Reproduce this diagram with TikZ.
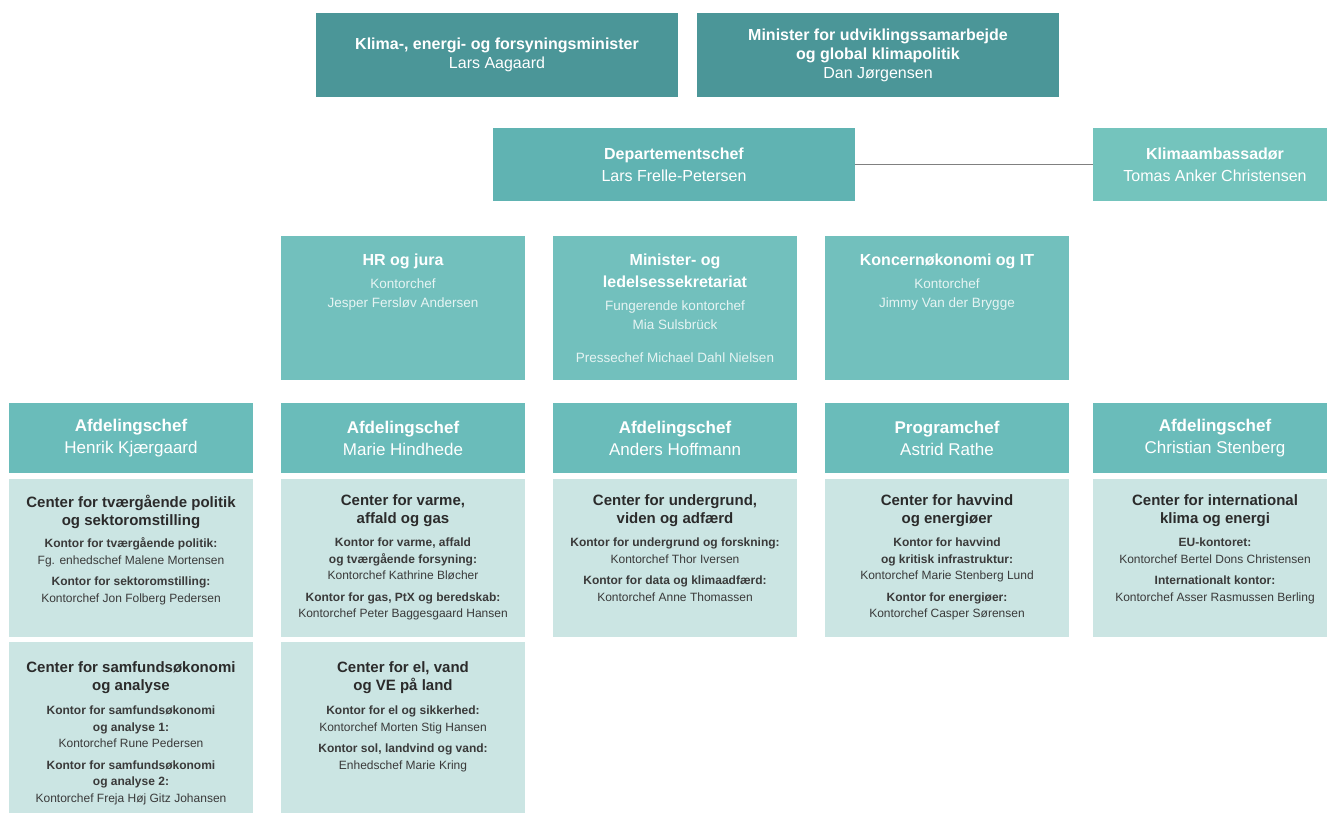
\documentclass[tikz,border=0pt]{standalone}
\usepackage{fontspec}
\setmainfont{Liberation Sans}
\definecolor{cTop}{HTML}{4B9698}
\definecolor{cDept}{HTML}{60B3B2}
\definecolor{cAmb}{HTML}{74C4BD}
\definecolor{cMid}{HTML}{72C0BD}
\definecolor{cAfd}{HTML}{6ABCBA}
\definecolor{cCtr}{HTML}{CBE5E3}
\definecolor{cTxt}{HTML}{2B2B2B}
\definecolor{cBody}{HTML}{3A3A3A}
\definecolor{cSub}{HTML}{E6F4F3}
\definecolor{cLine}{HTML}{808080}
\begin{document}
\begin{tikzpicture}[x=1pt,y=-1pt,
  every node/.style={inner sep=0pt, outer sep=0pt},
  topbox/.style={anchor=north west, fill=cTop, minimum width=362pt, minimum height=84pt, text=white, align=center, font=\fontsize{16}{19}\selectfont},
  deptbox/.style={anchor=north west, fill=cDept, minimum width=362pt, minimum height=73pt, text=white, align=center, font=\fontsize{16}{22}\selectfont},
  ambbox/.style={anchor=north west, fill=cAmb, minimum width=244pt, minimum height=73pt, text=white, align=center, font=\fontsize{16}{22}\selectfont},
  midbox/.style={anchor=north west, fill=cMid, minimum width=244pt, minimum height=144pt},
  afdbox/.style={anchor=north west, fill=cAfd, minimum width=244pt, minimum height=70pt, text=white, align=center, font=\fontsize{17}{22}\selectfont},
  ctrbox/.style={anchor=north west, fill=cCtr, minimum width=244pt, minimum height=#1},
  midhead/.style={anchor=north, text=white, align=center, font=\bfseries\fontsize{16}{22}\selectfont},
  midsub/.style={anchor=north, text=cSub, align=center, font=\fontsize{13.5}{18.5}\selectfont},
  ctrhead/.style={anchor=north, text=cTxt, align=center, font=\bfseries\fontsize{15}{18}\selectfont},
  ctrbody/.style={anchor=north, text=cBody, align=center, font=\fontsize{12}{16.5}\selectfont},
  link/.style={draw=cLine, line width=1.2pt}
]
\useasboundingbox (0,0) rectangle (1327,812);

% top row
\node[topbox] (min1) at (316,13) {\textbf{Klima-, energi- og forsyningsminister}\\Lars Aagaard};
\node[topbox] (min2) at (697,13) {\textbf{Minister for udviklingssamarbejde}\\\textbf{og global klimapolitik}\\Dan Jørgensen};

% departementschef
\node[deptbox] (dept) at (493,128) {\textbf{Departementschef}\\Lars Frelle-Petersen};
\node[ambbox] (amb) at (1093,128) {\textbf{Klimaambassadør}\\Tomas Anker Christensen};
\draw[link] (dept.east) -- (amb.west);

% middle row
\node[midbox] (hr) at (281,236) {};
\node[midbox] (sek) at (553,236) {};
\node[midbox] (kon) at (825,236) {};
\node[midhead] (hrh) at ([yshift=-18pt]hr.north) {HR og jura};
\node[midsub] (hrs) at ([yshift=-43pt]hr.north) {Kontorchef\\Jesper Fersløv Andersen};
\node[midhead] (sekh) at ([yshift=-18pt]sek.north) {Minister- og\\ledelsessekretariat};
\node[midsub] (seks) at ([yshift=-65pt]sek.north) {Fungerende kontorchef\\Mia Sulsbrück\\[15pt]Pressechef Michael Dahl Nielsen};
\node[midhead] (konh) at ([yshift=-18pt]kon.north) {Koncernøkonomi og IT};
\node[midsub] (kons) at ([yshift=-43pt]kon.north) {Kontorchef\\Jimmy Van der Brygge};

% afdelingschef row
\node[afdbox] (a1) at (9,403) {\textbf{Afdelingschef}\\Henrik Kjærgaard};
\node[afdbox] (a2) at (281,403) {\textbf{Afdelingschef}\\Marie Hindhede};
\node[afdbox] (a3) at (553,403) {\textbf{Afdelingschef}\\Anders Hoffmann};
\node[afdbox] (a4) at (825,403) {\textbf{Programchef}\\Astrid Rathe};
\node[afdbox] (a5) at (1093,403) {\textbf{Afdelingschef}\\Christian Stenberg};

% center boxes row 1
\node[ctrbox=158pt] (c1) at (9,479) {};
\node[ctrbox=158pt] (c2) at (281,479) {};
\node[ctrbox=158pt] (c3) at (553,479) {};
\node[ctrbox=158pt] (c4) at (825,479) {};
\node[ctrbox=158pt] (c5) at (1093,479) {};
% center boxes row 2
\node[ctrbox=190pt] (d1) at (9,642) {};
\node[ctrbox=190pt] (d2) at (281,642) {};

\node[ctrhead] (c1h) at ([yshift=-16pt]c1.north) {Center for tværgående politik\\og sektoromstilling};
\node[ctrbody] (c1b) at ([yshift=-59pt]c1.north) {\textbf{Kontor for tværgående politik:}\\Fg. enhedschef Malene Mortensen\\[5pt]\textbf{Kontor for sektoromstilling:}\\Kontorchef Jon Folberg Pedersen};

\node[ctrhead] (c2h) at ([yshift=-16pt]c2.north) {Center for varme,\\affald og gas};
\node[ctrbody] (c2b) at ([yshift=-59pt]c2.north) {\textbf{Kontor for varme, affald}\\\textbf{og tværgående forsyning:}\\Kontorchef Kathrine Bløcher\\[5pt]\textbf{Kontor for gas, PtX og beredskab:}\\Kontorchef Peter Baggesgaard Hansen};

\node[ctrhead] (c3h) at ([yshift=-16pt]c3.north) {Center for undergrund,\\viden og adfærd};
\node[ctrbody] (c3b) at ([yshift=-59pt]c3.north) {\textbf{Kontor for undergrund og forskning:}\\Kontorchef Thor Iversen\\[5pt]\textbf{Kontor for data og klimaadfærd:}\\Kontorchef Anne Thomassen};

\node[ctrhead] (c4h) at ([yshift=-16pt]c4.north) {Center for havvind\\og energiøer};
\node[ctrbody] (c4b) at ([yshift=-59pt]c4.north) {\textbf{Kontor for havvind}\\\textbf{og kritisk infrastruktur:}\\Kontorchef Marie Stenberg Lund\\[5pt]\textbf{Kontor for energiøer:}\\Kontorchef Casper Sørensen};

\node[ctrhead] (c5h) at ([yshift=-16pt]c5.north) {Center for international\\klima og energi};
\node[ctrbody] (c5b) at ([yshift=-59pt]c5.north) {\textbf{EU-kontoret:}\\Kontorchef Bertel Dons Christensen\\[5pt]\textbf{Internationalt kontor:}\\Kontorchef Asser Rasmussen Berling};

\node[ctrhead] (d1h) at ([yshift=-20pt]d1.north) {Center for samfundsøkonomi\\og analyse};
\node[ctrbody] (d1b) at ([yshift=-64pt]d1.north) {\textbf{Kontor for samfundsøkonomi}\\\textbf{og analyse 1:}\\Kontorchef Rune Pedersen\\[5pt]\textbf{Kontor for samfundsøkonomi}\\\textbf{og analyse 2:}\\Kontorchef Freja Høj Gitz Johansen};

\node[ctrhead] (d2h) at ([yshift=-20pt]d2.north) {Center for el, vand\\og VE på land};
\node[ctrbody] (d2b) at ([yshift=-64pt]d2.north) {\textbf{Kontor for el og sikkerhed:}\\Kontorchef Morten Stig Hansen\\[5pt]\textbf{Kontor sol, landvind og vand:}\\Enhedschef Marie Kring};
\end{tikzpicture}
\end{document}
